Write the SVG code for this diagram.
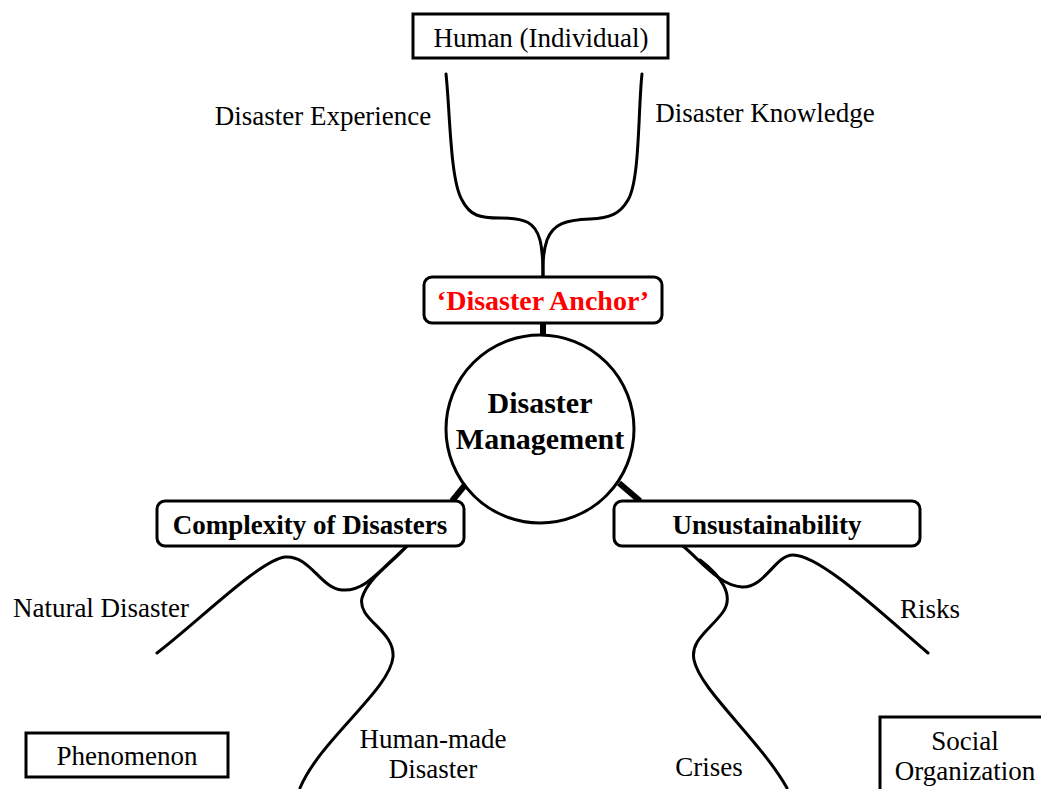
<svg xmlns="http://www.w3.org/2000/svg" width="1041" height="789" viewBox="0 0 1041 789">
<style>
.box{fill:#fff;stroke:#000;stroke-width:3}
.t{font-family:"Liberation Serif","Times New Roman",serif;font-size:27px;fill:#000}
.b{font-family:"Liberation Serif","Times New Roman",serif;font-weight:bold;font-size:27px;fill:#000}
.c{fill:none;stroke:#000;stroke-width:3;stroke-linecap:round}
.s{fill:none;stroke:#000;stroke-width:6}
</style>
<rect width="1041" height="789" fill="#fff"/>
<g id="connectors">
<path class="c" d="M446,74 C450,110 450,180 462,200 C470,216 480,218 500,218 C525,218 535,222 540,240 C543,252 543,262 543,276"/>
<path class="c" d="M642,74 C638,110 640,180 628,200 C620,214 610,218 590,219 C565,220 553,224 547,240 C543,252 543,262 543,276"/>
<line class="s" x1="543" y1="323" x2="543" y2="336"/>
<line class="s" x1="465" y1="485" x2="452" y2="501"/>
<line class="s" x1="619" y1="483" x2="640" y2="501"/>
<path class="c" d="M157,653 C200,620 260,560 285,557 C310,555 320,588 342,590 C365,592 380,570 407,546"/>
<path class="c" d="M407,546 C390,565 368,578 362,598 C357,620 395,630 393,657 C390,690 320,740 300,788"/>
<path class="c" d="M683,546 C700,560 720,586 742,587 C765,588 775,555 793,555 C820,555 880,612 928,653"/>
<path class="c" d="M700,560 C720,575 735,595 723,612 C710,630 690,640 694,660 C700,690 760,740 787,788"/>
</g>
<g id="human">
<rect class="box" x="413" y="14" width="255" height="44"/>
<text class="t" x="541" y="47" text-anchor="middle">Human (Individual)</text>
</g>
<g id="exp"><text class="t" x="323" y="125" text-anchor="middle">Disaster Experience</text></g>
<g id="know"><text class="t" x="765" y="122" text-anchor="middle">Disaster Knowledge</text></g>
<g id="anchor">
<rect class="box" x="424" y="277" width="238" height="46" rx="8"/>
<text class="b" x="543" y="310" text-anchor="middle" style="fill:#f00;font-size:28px">‘Disaster Anchor’</text>
</g>
<g id="dm">
<circle class="box" cx="540" cy="429" r="94"/>
<text class="b" x="540" y="413" text-anchor="middle" style="font-size:30px">Disaster</text>
<text class="b" x="540" y="449" text-anchor="middle" style="font-size:30px">Management</text>
</g>
<g id="complexity">
<rect class="box" x="157" y="501" width="307" height="45" rx="8"/>
<text class="b" x="310" y="534" text-anchor="middle">Complexity of Disasters</text>
</g>
<g id="unsust">
<rect class="box" x="614" y="501" width="306" height="45" rx="8"/>
<text class="b" x="767" y="534" text-anchor="middle">Unsustainability</text>
</g>
<g id="natural"><text class="t" x="101" y="617" text-anchor="middle">Natural Disaster</text></g>
<g id="risks"><text class="t" x="930" y="618" text-anchor="middle">Risks</text></g>
<g id="humanmade">
<text class="t" x="433" y="748" text-anchor="middle">Human-made</text>
<text class="t" x="433" y="778" text-anchor="middle">Disaster</text>
</g>
<g id="crises"><text class="t" x="709" y="776" text-anchor="middle">Crises</text></g>
<g id="phenomenon">
<rect class="box" x="26" y="733" width="202" height="44"/>
<text class="t" x="127" y="765" text-anchor="middle">Phenomenon</text>
</g>
<g id="social">
<rect class="box" x="880" y="717" width="170" height="90"/>
<text class="t" x="965" y="750" text-anchor="middle">Social</text>
<text class="t" x="965" y="780" text-anchor="middle">Organization</text>
</g>
</svg>
